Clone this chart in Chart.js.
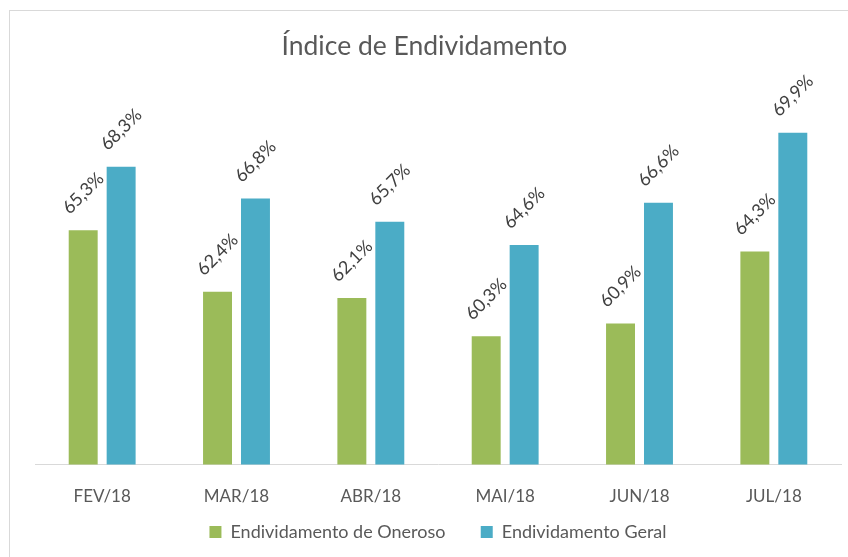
<!DOCTYPE html>
<html lang="pt">
<head>
    <meta charset="UTF-8">
    <title>Índice de Endividamento</title>
    <style>
        body {
            margin: 0;
            background: #fff;
            width: 848px;
            height: 557px;
            overflow: hidden;
            position: relative;
        }
        .frame {
            position: absolute;
            left: 9px;
            top: 10px;
            width: 900px;
            height: 600px;
            border: 1px solid #d9d9d9;
        }
        #chart {
            position: absolute;
            left: 0;
            top: 0;
        }
    </style>
    <script src="https://cdn.jsdelivr.net/npm/chart.js"></script>
</head>
<body>
    <div class="frame"></div>
    <canvas id="chart" width="848" height="557"></canvas>

    <script>
        const months = ['FEV/18', 'MAR/18', 'ABR/18', 'MAI/18', 'JUN/18', 'JUL/18'];
        const oneroso = [65.3, 62.4, 62.1, 60.3, 60.9, 64.3];
        const geral = [68.3, 66.8, 65.7, 64.6, 66.6, 69.9];

        // rotated value labels above each bar
        const rotatedLabels = {
            id: 'rotatedLabels',
            afterDatasetsDraw(chart) {
                const ctx = chart.ctx;
                ctx.save();
                ctx.font = '18px Lato';
                ctx.fillStyle = '#404040';
                ctx.textAlign = 'center';
                ctx.textBaseline = 'middle';
                chart.data.datasets.forEach((ds, i) => {
                    chart.getDatasetMeta(i).data.forEach((bar, j) => {
                        const txt = ds.data[j].toFixed(1).replace('.', ',') + '%';
                        ctx.save();
                        ctx.translate(bar.x, bar.y - 37);
                        ctx.rotate(-Math.PI / 4);
                        ctx.fillText(txt, 0, 0);
                        ctx.restore();
                    });
                });
                ctx.restore();
            }
        };

        new Chart(document.getElementById('chart'), {
            type: 'bar',
            data: {
                labels: months,
                datasets: [{
                    label: 'Endividamento de Oneroso',
                    data: oneroso,
                    backgroundColor: '#9BBB59'
                }, {
                    label: 'Endividamento Geral',
                    data: geral,
                    backgroundColor: '#4BACC6'
                }]
            },
            options: {
                responsive: false,
                animation: false,
                categoryPercentage: 0.565,
                barPercentage: 0.763,
                layout: {
                    padding: { left: 35, right: 7, top: 0, bottom: 6 }
                },
                plugins: {
                    title: {
                        display: true,
                        // trailing spaces nudge the centred title left, like the original
                        text: 'Índice de Endividamento    ',
                        color: '#595959',
                        font: { family: 'Lato', size: 26.5, weight: 'normal' },
                        padding: { top: 31, bottom: 57 }
                    },
                    legend: {
                        position: 'bottom',
                        labels: {
                            color: '#595959',
                            font: { family: 'Lato', size: 18 },
                            boxWidth: 12,
                            boxHeight: 12,
                            padding: 3,
                            generateLabels(chart) {
                                const items = Chart.defaults.plugins.legend.labels.generateLabels(chart);
                                items[0].text += '       ';
                                return items;
                            }
                        }
                    },
                    tooltip: { enabled: false }
                },
                scales: {
                    x: {
                        grid: { display: false, drawTicks: false, tickLength: 0 },
                        border: { display: true, color: '#d9d9d9', width: 1 },
                        ticks: {
                            color: '#595959',
                            font: { family: 'Lato', size: 17 },
                            padding: 22
                        },
                        afterFit(scale) { scale.height = scale.height - 9; }
                    },
                    y: {
                        display: false,
                        min: 54.24,
                        max: 70.51
                    }
                }
            },
            plugins: [rotatedLabels]
        });
    </script>
</body>
</html>
